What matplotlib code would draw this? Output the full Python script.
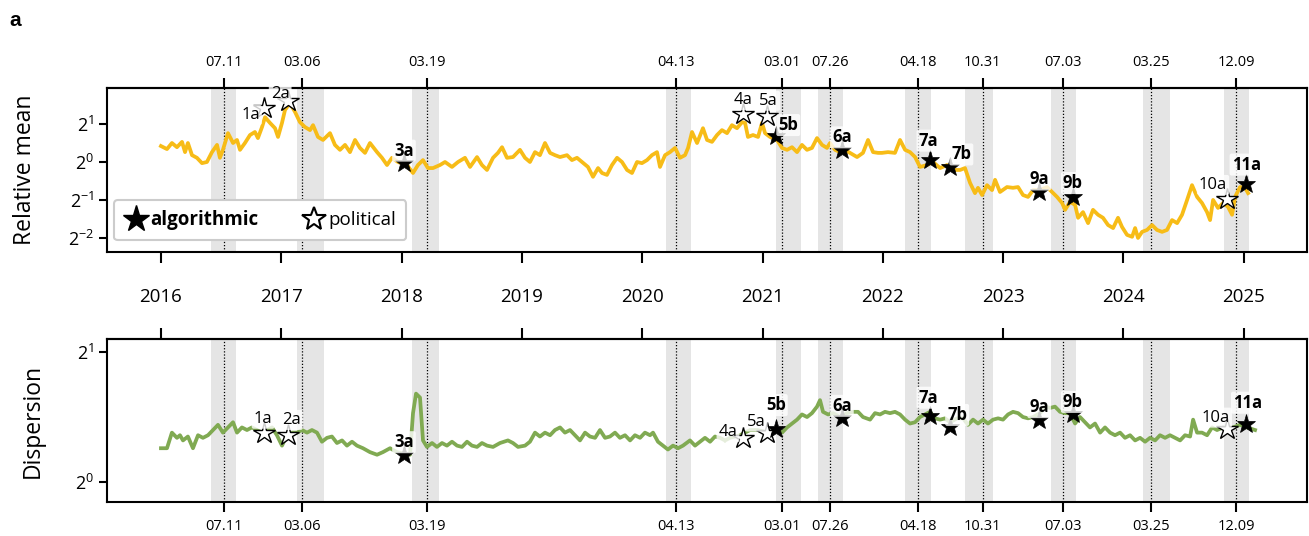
import numpy as np
import pandas as pd
import matplotlib
matplotlib.use('Agg')
import matplotlib.pyplot as plt
from matplotlib.lines import Line2D
from matplotlib.ticker import NullLocator

plt.rcParams['font.family'] = ['Open Sans', 'DejaVu Sans']
plt.rcParams['mathtext.fontset'] = 'custom'
plt.rcParams['mathtext.rm'] = 'Open Sans'
plt.rcParams['mathtext.it'] = 'Open Sans:italic'
plt.rcParams['mathtext.bf'] = 'Open Sans:bold'

# ---------------- data ----------------
# time in years since 2016-01-01, values as log2 of the plotted quantity
mean_t = 2016 + np.array([
    0.000, 0.050, 0.091, 0.133, 0.175, 0.200, 0.224, 0.258, 0.299, 0.341,
    0.382, 0.424, 0.466, 0.490, 0.515, 0.557, 0.599, 0.632, 0.657, 0.698,
    0.740, 0.781, 0.806, 0.840, 0.865, 0.906, 0.948, 0.973, 1.006, 1.031,
    1.072, 1.114, 1.155, 1.197, 1.239, 1.264, 1.305, 1.347, 1.405, 1.446,
    1.488, 1.530, 1.571, 1.613, 1.654, 1.696, 1.737, 1.796, 1.837, 1.879,
    1.920, 1.970, 2.045, 2.095, 2.136, 2.178, 2.219, 2.261, 2.319, 2.361,
    2.419, 2.469, 2.527, 2.569, 2.627, 2.668, 2.710, 2.760, 2.801, 2.835,
    2.876, 2.926, 2.984, 3.026, 3.067, 3.109, 3.150, 3.192, 3.234, 3.275,
    3.317, 3.375, 3.416, 3.458, 3.500, 3.549, 3.591, 3.633, 3.666, 3.707,
    3.749, 3.791, 3.832, 3.874, 3.915, 3.957, 3.998, 4.040, 4.081, 4.123,
    4.148, 4.190, 4.231, 4.273, 4.314, 4.356, 4.381, 4.414, 4.456, 4.505,
    4.539, 4.580, 4.622, 4.663, 4.705, 4.746, 4.788, 4.830, 4.855, 4.879,
    4.921, 4.963, 4.996, 5.021, 5.062, 5.121, 5.162, 5.204, 5.245, 5.287,
    5.328, 5.370, 5.411, 5.453, 5.495, 5.536, 5.561, 5.603, 5.644, 5.686,
    5.727, 5.786, 5.835, 5.877, 5.919, 5.960, 5.993, 6.043, 6.101, 6.143,
    6.185, 6.226, 6.268, 6.309, 6.367, 6.417, 6.476, 6.534, 6.584, 6.642,
    6.683, 6.725, 6.766, 6.791, 6.825, 6.866, 6.908, 6.933, 6.974, 7.032,
    7.082, 7.124, 7.165, 7.207, 7.249, 7.307, 7.365, 7.407, 7.448, 7.490,
    7.515, 7.556, 7.598, 7.623, 7.664, 7.706, 7.747, 7.789, 7.830, 7.872,
    7.914, 7.955, 7.988, 8.030, 8.072, 8.097, 8.121, 8.155, 8.196, 8.238,
    8.279, 8.321, 8.362, 8.404, 8.446, 8.487, 8.529, 8.570, 8.612, 8.653,
    8.695, 8.720, 8.745, 8.786, 8.828, 8.869, 8.903, 8.928, 8.969, 9.011,
    9.036])
mean_log2 = np.array([
    0.42, 0.34, 0.50, 0.39, 0.53, 0.26, 0.50, 0.18, 0.11, -0.03,
    0.00, 0.26, 0.45, 0.11, 0.32, 0.76, 0.50, 0.58, 0.32, 0.50,
    0.71, 0.79, 0.63, 0.92, 1.18, 1.03, 0.89, 0.66, 1.03, 1.37,
    1.55, 1.32, 1.05, 0.92, 0.84, 0.97, 0.66, 0.58, 0.76, 0.45,
    0.32, 0.45, 0.26, 0.58, 0.37, 0.24, 0.50, 0.26, 0.11, -0.08,
    0.11, 0.00, -0.08, -0.29, -0.08, 0.05, -0.16, -0.16, -0.08, 0.00,
    -0.13, 0.00, 0.11, -0.13, 0.13, -0.08, -0.21, 0.11, 0.24, 0.39,
    0.11, 0.13, 0.32, 0.11, 0.00, 0.26, 0.18, 0.50, 0.24, 0.18,
    0.13, 0.18, 0.05, 0.11, 0.00, -0.13, -0.39, -0.16, -0.29, -0.34,
    -0.08, 0.11, 0.00, -0.21, -0.29, 0.00, -0.03, 0.05, 0.18, 0.26,
    -0.13, 0.18, 0.26, 0.37, 0.11, 0.18, 0.37, 0.79, 0.50, 0.89,
    0.58, 0.53, 0.71, 0.84, 0.76, 0.97, 0.89, 1.05, 1.03, 0.66,
    0.71, 0.66, 1.03, 0.76, 0.66, 0.58, 0.37, 0.32, 0.39, 0.26,
    0.45, 0.32, 0.37, 0.63, 0.45, 0.37, 0.50, 0.32, 0.26, 0.32,
    0.24, 0.13, 0.24, 0.58, 0.26, 0.24, 0.24, 0.26, 0.24, 0.58,
    0.32, 0.26, 0.13, -0.13, -0.08, 0.00, -0.16, -0.08, -0.21, -0.21,
    -0.16, -0.55, -0.82, -0.68, -0.87, -0.61, -0.74, -0.47, -0.79, -0.66,
    -0.68, -0.66, -0.87, -0.92, -0.74, -0.74, -0.66, -0.79, -0.92, -1.08,
    -1.26, -1.05, -1.13, -1.47, -1.32, -1.61, -1.26, -1.39, -1.47, -1.66,
    -1.74, -1.47, -1.71, -1.92, -1.97, -1.74, -2.00, -1.84, -1.79, -1.66,
    -1.79, -1.84, -1.79, -1.53, -1.61, -1.39, -1.00, -0.61, -0.92, -1.08,
    -1.32, -1.53, -1.00, -1.21, -1.08, -1.18, -1.39, -0.92, -0.66, -0.68,
    -0.82])

disp_t = 2016 + np.array([
    0.000, 0.050, 0.091, 0.133, 0.158, 0.183, 0.224, 0.266, 0.308, 0.349,
    0.391, 0.432, 0.474, 0.515, 0.557, 0.599, 0.632, 0.673, 0.715, 0.756,
    0.798, 0.840, 0.881, 0.923, 0.964, 1.006, 1.047, 1.089, 1.131, 1.172,
    1.214, 1.255, 1.297, 1.338, 1.380, 1.421, 1.463, 1.505, 1.546, 1.588,
    1.629, 1.679, 1.737, 1.796, 1.845, 1.904, 1.962, 2.012, 2.070, 2.095,
    2.120, 2.153, 2.178, 2.211, 2.253, 2.294, 2.336, 2.377, 2.419, 2.461,
    2.502, 2.544, 2.585, 2.627, 2.668, 2.710, 2.760, 2.818, 2.884, 2.926,
    2.968, 3.026, 3.067, 3.109, 3.150, 3.192, 3.234, 3.275, 3.317, 3.358,
    3.400, 3.441, 3.483, 3.525, 3.566, 3.608, 3.649, 3.691, 3.732, 3.774,
    3.815, 3.857, 3.899, 3.940, 3.982, 4.023, 4.065, 4.090, 4.131, 4.173,
    4.214, 4.256, 4.298, 4.339, 4.397, 4.439, 4.481, 4.522, 4.564, 4.605,
    4.647, 4.688, 4.730, 4.813, 4.896, 4.963, 5.037, 5.121, 5.162, 5.204,
    5.245, 5.287, 5.328, 5.370, 5.411, 5.453, 5.478, 5.503, 5.545, 5.586,
    5.644, 5.702, 5.752, 5.794, 5.835, 5.894, 5.935, 5.977, 6.018, 6.060,
    6.101, 6.143, 6.185, 6.226, 6.268, 6.309, 6.351, 6.392, 6.434, 6.476,
    6.517, 6.559, 6.617, 6.667, 6.708, 6.750, 6.791, 6.833, 6.874, 6.916,
    6.958, 6.999, 7.041, 7.082, 7.124, 7.165, 7.207, 7.249, 7.307, 7.348,
    7.390, 7.431, 7.473, 7.515, 7.556, 7.598, 7.639, 7.681, 7.722, 7.764,
    7.806, 7.847, 7.889, 7.930, 7.972, 8.013, 8.055, 8.097, 8.138, 8.180,
    8.221, 8.263, 8.304, 8.346, 8.387, 8.429, 8.471, 8.512, 8.554, 8.579,
    8.612, 8.653, 8.695, 8.737, 8.778, 8.828, 8.869, 8.911, 8.969, 9.027,
    9.094])
disp_log2 = np.array([
    0.26, 0.26, 0.38, 0.34, 0.36, 0.32, 0.35, 0.26, 0.36, 0.34,
    0.36, 0.40, 0.44, 0.38, 0.42, 0.46, 0.38, 0.42, 0.40, 0.42,
    0.40, 0.38, 0.40, 0.42, 0.36, 0.28, 0.36, 0.38, 0.38, 0.40,
    0.38, 0.40, 0.38, 0.31, 0.34, 0.35, 0.30, 0.32, 0.28, 0.31,
    0.28, 0.26, 0.23, 0.21, 0.23, 0.26, 0.23, 0.22, 0.21, 0.53,
    0.68, 0.65, 0.32, 0.27, 0.30, 0.27, 0.30, 0.28, 0.31, 0.28,
    0.27, 0.31, 0.28, 0.27, 0.30, 0.28, 0.27, 0.30, 0.32, 0.30,
    0.27, 0.28, 0.31, 0.38, 0.35, 0.38, 0.36, 0.40, 0.42, 0.38,
    0.40, 0.36, 0.32, 0.38, 0.35, 0.34, 0.40, 0.34, 0.35, 0.38,
    0.34, 0.36, 0.32, 0.36, 0.34, 0.38, 0.36, 0.38, 0.31, 0.28,
    0.25, 0.28, 0.26, 0.28, 0.32, 0.28, 0.31, 0.34, 0.31, 0.35,
    0.34, 0.32, 0.34, 0.36, 0.40, 0.40, 0.38, 0.40, 0.38, 0.42,
    0.45, 0.48, 0.52, 0.50, 0.53, 0.58, 0.63, 0.54, 0.52, 0.53,
    0.50, 0.53, 0.54, 0.54, 0.50, 0.48, 0.53, 0.52, 0.54, 0.53,
    0.54, 0.52, 0.48, 0.45, 0.46, 0.50, 0.52, 0.54, 0.49, 0.48,
    0.49, 0.46, 0.49, 0.49, 0.44, 0.48, 0.45, 0.48, 0.45, 0.48,
    0.49, 0.48, 0.52, 0.54, 0.53, 0.50, 0.49, 0.50, 0.53, 0.58,
    0.57, 0.58, 0.54, 0.53, 0.53, 0.45, 0.50, 0.46, 0.42, 0.45,
    0.38, 0.42, 0.38, 0.36, 0.38, 0.34, 0.36, 0.32, 0.34, 0.31,
    0.34, 0.32, 0.36, 0.34, 0.36, 0.34, 0.32, 0.36, 0.35, 0.48,
    0.38, 0.38, 0.36, 0.42, 0.40, 0.42, 0.40, 0.42, 0.44, 0.42,
    0.40])

event_dates = ['2016-07-11', '2017-03-06', '2018-03-19', '2020-04-13',
               '2021-03-01', '2021-07-26', '2022-04-18', '2022-10-31',
               '2023-07-03', '2024-03-25', '2024-12-09']
band_start = ['2016-06-01', '2017-02-17', '2018-02-01', '2020-03-13',
              '2021-02-11', '2021-06-18', '2022-03-08', '2022-09-07',
              '2023-05-26', '2024-02-28', '2024-11-01']
band_end = ['2016-08-16', '2017-05-10', '2018-04-24', '2020-05-28',
            '2021-04-28', '2021-09-02', '2022-05-27', '2022-12-01',
            '2023-08-10', '2024-05-21', '2025-01-16']

years = list(range(2016, 2026))

star_names = ['1a', '2a', '3a', '4a', '5a', '5b', '6a', '7a', '7b', '9a', '9b', '10a', '11a']
star_kind = ['political', 'political', 'algorithmic', 'political', 'political',
             'algorithmic', 'algorithmic', 'algorithmic', 'algorithmic',
             'algorithmic', 'algorithmic', 'political', 'algorithmic']
star_t = [2016.86, 2017.06, 2018.02, 2020.84, 2021.04, 2021.11, 2021.66,
          2022.39, 2022.56, 2023.30, 2023.58, 2024.86, 2025.02]
star_mean_log2 = [1.42, 1.61, -0.03, 1.26, 1.21, 0.68, 0.32, 0.05, -0.13,
                  -0.79, -0.92, -0.97, -0.58]
star_disp_log2 = [0.38, 0.36, 0.21, 0.34, 0.38, 0.41, 0.49, 0.51, 0.42,
                  0.48, 0.52, 0.41, 0.45]

# label offsets in points (dx, dy)
off_mean = {'1a': (-10, -5), '2a': (-6, 5), '3a': (0, 9), '4a': (0, 10), '5a': (1, 11),
            '5b': (9, 8), '6a': (0, 9), '7a': (-1, 14), '7b': (8, 9), '9a': (0, 9),
            '9b': (0, 10), '10a': (-10, 10), '11a': (0, 14)}
off_disp = {'1a': (-1, 10), '2a': (2, 11), '3a': (0, 9), '4a': (-11, 4), '5a': (-8, 8),
            '5b': (0, 17), '6a': (0, 9), '7a': (-1, 13), '7b': (5, 9), '9a': (0, 9),
            '9b': (0, 9), '10a': (-8, 8), '11a': (1, 15)}


def dec_year(s):
    d = pd.Timestamp(s)
    n = 366 if d.is_leap_year else 365
    return d.year + (d.dayofyear - 1) / n


ev_x = [dec_year(s) for s in event_dates]
ev_lab = [pd.Timestamp(s).strftime('%m.%d') for s in event_dates]

# ---------------- figure ----------------
fig = plt.figure(figsize=(13.09, 5.36), dpi=100)
ax1 = fig.add_axes([0.0817, 0.5299, 0.9168, 0.306])
ax2 = fig.add_axes([0.0817, 0.0634, 0.9168, 0.304])

xlim = (2015.551, 2025.526)
for ax in (ax1, ax2):
    for s, e in zip(band_start, band_end):
        ax.axvspan(dec_year(s), dec_year(e), color='#e5e5e5', lw=0, zorder=0)
    for x in ev_x:
        ax.axvline(x, color='black', ls=(0, (1, 1.5)), lw=0.9, zorder=1)
    ax.set_xlim(*xlim)
    ax.set_yscale('log', base=2)
    ax.yaxis.set_minor_locator(NullLocator())
    for sp in ax.spines.values():
        sp.set_linewidth(1.5)
    ax.tick_params(axis='y', which='major', length=6, width=1.5, labelsize=13)

ax1.plot(mean_t, 2.0 ** mean_log2, color='#f7bc17', lw=2.7, zorder=2)
ax2.plot(disp_t, 2.0 ** disp_log2, color='#80aa52', lw=2.7, zorder=2)

ax1.set_ylim(2 ** -2.37, 2 ** 1.95)
ax1.set_yticks([2 ** -2, 2 ** -1, 1, 2])
ax1.set_yticklabels([r'$2^{-2}$', r'$2^{-1}$', r'$2^{0}$', r'$2^{1}$'])
ax2.set_ylim(2 ** -0.154, 2 ** 1.1)
ax2.set_yticks([1, 2])
ax2.set_yticklabels([r'$2^{0}$', r'$2^{1}$'])

# year ticks: labels below the upper panel, ticks on top of the lower panel
ax1.set_xticks(years)
ax1.set_xticklabels([str(y) for y in years])
ax1.tick_params(axis='x', length=8, width=1.5, labelsize=13.5, pad=18)
ax2.set_xticks(ev_x)
ax2.set_xticklabels(ev_lab)
ax2.tick_params(axis='x', length=7, width=1.5, labelsize=10.5, pad=5)

top1 = ax1.secondary_xaxis('top')
top1.set_xticks(ev_x)
top1.set_xticklabels(ev_lab)
top1.tick_params(axis='x', length=7, width=1.5, labelsize=10.5, pad=6)
top1.spines['top'].set_linewidth(1.5)

top2 = ax2.secondary_xaxis('top')
top2.set_xticks(years)
top2.set_xticklabels([])
top2.tick_params(axis='x', length=8, width=1.5)
top2.spines['top'].set_linewidth(1.5)

# event stars
box = dict(boxstyle='round,pad=0.12', fc='white', ec='none', alpha=0.8)
for ax, vals, offs in ((ax1, star_mean_log2, off_mean), (ax2, star_disp_log2, off_disp)):
    for name, kind, t, v in zip(star_names, star_kind, star_t, vals):
        y = 2.0 ** v
        if kind == 'algorithmic':
            ax.plot(t, y, marker='*', ms=14, mfc='black', mec='black', mew=0.5,
                    ls='', zorder=4)
            weight = 'bold'
        else:
            ax.plot(t, y, marker='*', ms=16, mfc='white', mec='black', mew=1.0,
                    ls='', zorder=4)
            weight = 'normal'
        ax.annotate(name, (t, y), xytext=offs[name], textcoords='offset points',
                    ha='center', va='center', fontsize=12, fontweight=weight,
                    bbox=box, zorder=5)

handles = [Line2D([], [], marker='*', ls='', ms=20, mfc='black', mec='black'),
           Line2D([], [], marker='*', ls='', ms=18, mfc='white', mec='black', mew=1.5)]
leg = ax1.legend(handles, ['algorithmic', 'political'], ncol=2, loc='lower left',
                 bbox_to_anchor=(0.006, 0.07), borderaxespad=0, fontsize=13.5,
                 handletextpad=0.15, columnspacing=2.4, handlelength=1.2,
                 frameon=True, fancybox=True, framealpha=1, borderpad=0.55)
leg.get_frame().set_edgecolor('#cccccc')
leg.get_frame().set_linewidth(1.5)
leg.get_texts()[0].set_fontweight('bold')
leg.set_zorder(6)

ax1.set_ylabel('Relative mean', fontsize=16.5)
ax1.yaxis.set_label_coords(-0.058, 0.5)
ax2.set_ylabel('Dispersion', fontsize=16.5)
ax2.yaxis.set_label_coords(-0.052, 0.5)

fig.text(0.007, 0.962, 'a', fontsize=15, fontweight='bold',
         family='Liberation Sans', va='center')

fig.savefig('out.png', dpi=100)
